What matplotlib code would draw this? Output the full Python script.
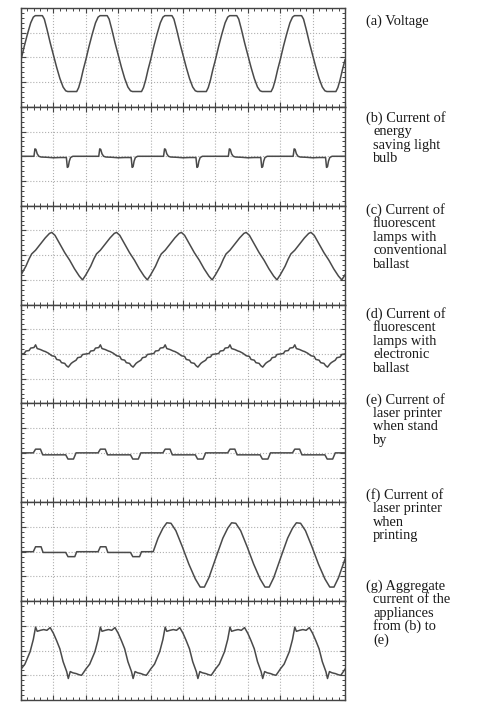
# Oscilloscope-style traces of voltage and appliance currents (7 stacked panels)
import numpy as np
import matplotlib.pyplot as plt
from matplotlib.ticker import MultipleLocator

# -----------------------------
# Data (x in divisions, one cycle = 2 divisions)
# -----------------------------
volt_t = [0.0, 0.1, 0.2, 0.3, 0.38, 0.44, 0.66, 0.72, 0.8, 0.9, 1.0, 1.1, 1.2,
          1.3, 1.38, 1.44, 1.72, 1.78, 1.85, 1.92, 2.0]
volt_v = [-0.1, 0.45, 0.95, 1.4, 1.63, 1.69, 1.69, 1.55, 1.15, 0.6, 0.1, -0.4, -0.85,
          -1.2, -1.35, -1.38, -1.38, -1.22, -0.9, -0.5, -0.1]

cfl_t = [0.0, 0.4, 0.43, 0.46, 0.5, 0.55, 0.62, 0.8, 1.0, 1.2, 1.4, 1.43, 1.46,
         1.49, 1.53, 1.6, 1.8, 2.0]
cfl_v = [0.0, 0.0, 0.3, 0.28, 0.1, 0.0, -0.03, -0.04, -0.06, -0.05, -0.05, -0.45,
         -0.42, -0.2, -0.05, 0.0, 0.0, 0.0]

conv_t = [0.0, 0.15, 0.25, 0.33, 0.45, 0.6, 0.75, 0.88, 0.95, 1.05, 1.2, 1.35,
          1.5, 1.65, 1.8, 1.9, 2.0]
conv_v = [-0.8, -0.45, -0.15, 0.05, 0.2, 0.45, 0.7, 0.88, 0.92, 0.8, 0.45, 0.1,
          -0.2, -0.55, -0.85, -1.0, -0.8]

elec_t = [0.0, 0.1, 0.15, 0.25, 0.3, 0.4, 0.45, 0.5, 0.6, 0.7, 0.75, 0.85, 0.95,
          1.05, 1.1, 1.2, 1.25, 1.35, 1.4, 1.46, 1.55, 1.6, 1.7, 1.75, 1.85,
          1.9, 2.0]
elec_v = [0.0, 0.02, 0.12, 0.14, 0.24, 0.26, 0.37, 0.22, 0.18, 0.12, 0.1, 0.03,
          -0.07, -0.1, -0.22, -0.25, -0.35, -0.38, -0.47, -0.53, -0.38, -0.33,
          -0.25, -0.15, -0.12, -0.02, 0.0]

stby_t = [0.0, 0.38, 0.45, 0.6, 0.67, 1.38, 1.45, 1.62, 1.7, 2.0]
stby_v = [0.0, 0.0, 0.15, 0.15, -0.08, -0.08, -0.25, -0.25, 0.0, 0.0]

# printer: standby-like cycles until the switch, then large cycles
print_small_t = [0.0, 0.38, 0.45, 0.62, 0.68, 1.38, 1.45, 1.66, 1.72, 2.0]
print_small_v = [0.0, 0.0, 0.2, 0.2, -0.03, -0.03, -0.2, -0.2, 0.0, 0.0]
print_switch = 4.08
print_big_t = [0.0, 0.15, 0.3, 0.42, 0.55, 0.7, 0.9, 1.1, 1.3, 1.45, 1.58, 1.72,
               1.88, 2.0]
print_big_v = [0.0, 0.55, 0.95, 1.17, 1.15, 0.85, 0.2, -0.5, -1.1, -1.43, -1.43,
               -1.05, -0.45, 0.0]

agg_t = [0.0, 0.12, 0.2, 0.28, 0.38, 0.45, 0.5, 0.6, 0.7, 0.8, 0.9, 1.0, 1.1,
         1.2, 1.3, 1.41, 1.46, 1.52, 1.6, 1.7, 1.8, 1.87, 1.95, 2.0]
agg_v = [-0.75, -0.55, -0.3, -0.05, 0.45, 0.95, 0.78, 0.82, 0.85, 0.82, 0.93,
         0.7, 0.4, 0.07, -0.45, -0.85, -1.13, -0.85, -0.9, -0.93, -0.98, -1.0,
         -0.85, -0.75]

labels = [
    ["(a) Voltage"],
    ["(b) Current of", "energy", "saving light", "bulb"],
    ["(c) Current of", "fluorescent", "lamps with", "conventional", "ballast"],
    ["(d) Current of", "fluorescent", "lamps with", "electronic", "ballast"],
    ["(e) Current of", "laser printer", "when stand", "by"],
    ["(f) Current of", "laser printer", "when", "printing"],
    ["(g) Aggregate", "current of the", "appliances", "from (b) to", "(e)"],
]
# pixel y of the first text line of each label
label_y = [21, 118, 210, 314, 400, 495, 586]


def repeat_cycle(t, v, n, start=0.0):
    xs, ys = [], []
    for k in range(n):
        xs += [start + 2 * k + ti for ti in t]
        ys += list(v)
    return xs, ys


traces = [
    repeat_cycle(volt_t, volt_v, 5),
    repeat_cycle(cfl_t, cfl_v, 5),
    repeat_cycle(conv_t, conv_v, 5),
    repeat_cycle(elec_t, elec_v, 5),
    repeat_cycle(stby_t, stby_v, 5),
]
xs, ys = repeat_cycle(print_small_t, print_small_v, 2)
bx, by = repeat_cycle(print_big_t, print_big_v, 3, start=print_switch)
traces.append((xs + [print_switch] + bx, ys + [0.0] + by))
traces.append(repeat_cycle(agg_t, agg_v, 5))

# -----------------------------
# Plotting
# -----------------------------
W, H = 486, 702
fig = plt.figure(figsize=(W / 100, H / 100), dpi=100)

left, right = 21, 345
top, bottom = 8, 700
ph = (bottom - top) / 7

for i, (x, y) in enumerate(traces):
    y0 = top + i * ph
    ax = fig.add_axes([left / W, 1 - (y0 + ph) / H, (right - left) / W, ph / H])
    ax.plot(x, y, color="#4a4a4a", linewidth=1.1)
    ax.set_xlim(0, 10)
    ax.set_ylim(-2, 2)
    ax.xaxis.set_major_locator(MultipleLocator(1))
    ax.xaxis.set_minor_locator(MultipleLocator(0.2))
    ax.yaxis.set_major_locator(MultipleLocator(1))
    ax.yaxis.set_minor_locator(MultipleLocator(0.2))
    ax.tick_params(which="both", direction="in", top=True, right=True,
                   labelbottom=False, labelleft=False, color="#444444")
    ax.tick_params(which="major", length=3.5, width=0.8)
    ax.tick_params(which="minor", length=2, width=0.7)
    ax.grid(True, which="major", linestyle=":", color="#b0b0b0", linewidth=0.8)
    for s in ax.spines.values():
        s.set_color("#444444")
        s.set_linewidth(1.0)

# Labels on the right, with hanging indent
for lines, ly in zip(labels, label_y):
    for j, line in enumerate(lines):
        xp = 366 if j == 0 else 373
        fig.text(xp / W, 1 - (ly + j * 13.5) / H, line, ha="left", va="center",
                 family="Liberation Serif", fontsize=10.4, color="#1a1a1a")

fig.savefig("out.png", dpi=100)
plt.close(fig)
